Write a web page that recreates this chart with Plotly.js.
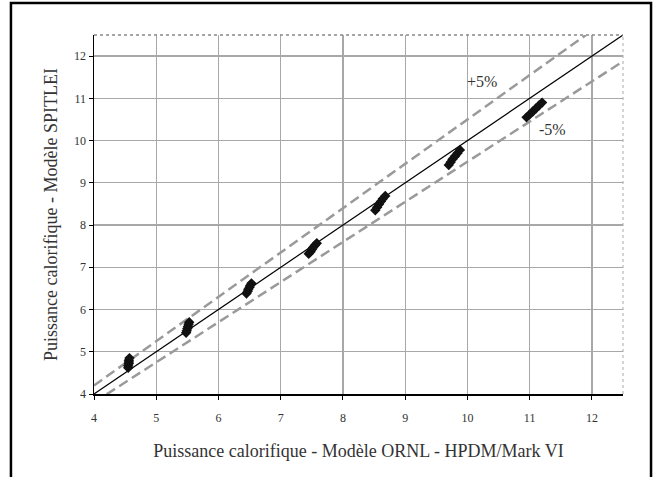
<!DOCTYPE html>
<html>
<head>
<meta charset="utf-8">
<script src="https://cdn.plot.ly/plotly-3.0.1.min.js"></script>
<style>html,body{margin:0;padding:0;background:#fff;}#chart{width:660px;height:477px;}</style>
</head>
<body>
<div id="chart"></div>
<script>
// Data
const clusterX = [
  4.55, 4.55, 4.56, 4.56, 4.56, 4.57,
  5.48, 5.49, 5.50, 5.51, 5.52, 5.53,
  6.45, 6.47, 6.48, 6.50, 6.51, 6.53,
  7.45, 7.48, 7.50, 7.52, 7.55, 7.58,
  8.52, 8.55, 8.58, 8.61, 8.64, 8.68,
  9.70, 9.73, 9.76, 9.80, 9.84, 9.88,
  10.95, 11.00, 11.05, 11.10, 11.15, 11.20
];
const clusterY = [
  4.62, 4.67, 4.72, 4.76, 4.80, 4.85,
  5.45, 5.50, 5.55, 5.60, 5.65, 5.70,
  6.38, 6.43, 6.48, 6.53, 6.57, 6.62,
  7.32, 7.37, 7.42, 7.47, 7.52, 7.57,
  8.35, 8.42, 8.49, 8.56, 8.62, 8.69,
  9.42, 9.49, 9.56, 9.63, 9.70, 9.78,
  10.55, 10.62, 10.69, 10.76, 10.83, 10.90
];
const refX = [4, 12.5];
const refY = [4, 12.5];
const plusX = [4, 11.905];
const plusY = [4.2, 12.5];
const minusX = [4, 12.5];
const minusY = [3.8, 11.875];
const tickVals = [4, 5, 6, 7, 8, 9, 10, 11, 12];
const tickText = ['4', '5', '6', '7', '8', '9', '10', '11', '12'];
const xTitle = 'Puissance calorifique - Modèle ORNL - HPDM/Mark VI';
const yTitle = 'Puissance calorifique - Modèle SPITLEI';

const serif = 'Liberation Serif, DejaVu Serif, serif';

const traces = [
  {x: plusX, y: plusY, mode: 'lines', line: {color: '#9a9a9a', width: 2.5, dash: '10px,5px'}, hoverinfo: 'skip'},
  {x: minusX, y: minusY, mode: 'lines', line: {color: '#9a9a9a', width: 2.5, dash: '10px,5px'}, hoverinfo: 'skip'},
  {x: refX, y: refY, mode: 'lines', line: {color: '#000', width: 1.2}, hoverinfo: 'skip'},
  {x: clusterX, y: clusterY, mode: 'markers', marker: {symbol: 'diamond', size: 8, color: '#111'}}
];

const axisCommon = {
  tickvals: tickVals, ticktext: tickText,
  showgrid: true, gridcolor: '#a8a8a8', gridwidth: 1.3,
  zeroline: false, showline: true, linecolor: '#000', linewidth: 1.5,
  ticks: 'outside', ticklen: 4, tickcolor: '#000', tickwidth: 1,
  tickfont: {family: serif, size: 12, color: '#333'},
  mirror: false
};

const layout = {
  width: 660, height: 477,
  margin: {l: 94, r: 37, t: 35, b: 83},
  paper_bgcolor: '#fff', plot_bgcolor: '#fff',
  showlegend: false,
  xaxis: Object.assign({}, axisCommon, {
    range: [4, 12.5],
    ticklabelstandoff: 8,
    title: {text: xTitle, font: {family: serif, size: 18, color: '#333'}, standoff: 20}
  }),
  yaxis: Object.assign({}, axisCommon, {
    range: [4, 12.5],
    title: {text: yTitle, font: {family: serif, size: 18, color: '#333'}, standoff: 12}
  }),
  shapes: [
    {type: 'line', xref: 'paper', yref: 'paper', x0: 0, x1: 1, y0: 1, y1: 1, line: {color: '#888', width: 1.5, dash: 'dot'}},
    {type: 'line', xref: 'paper', yref: 'paper', x0: 1, x1: 1, y0: 0, y1: 1, line: {color: '#aaa', width: 1, dash: 'dot'}},
    {type: 'rect', xref: 'paper', yref: 'paper', x0: -0.157, x1: 1.053, y0: -0.3, y1: 1.089, line: {color: '#000', width: 2.5}, fillcolor: 'rgba(0,0,0,0)'}
  ],
  annotations: [
    {x: 10.24, y: 11.4, xref: 'x', yref: 'y', text: '+5%', showarrow: false, font: {family: serif, size: 16, color: '#333'}},
    {x: 11.36, y: 10.27, xref: 'x', yref: 'y', text: '-5%', showarrow: false, font: {family: serif, size: 16, color: '#333'}}
  ]
};

Plotly.newPlot('chart', traces, layout, {displayModeBar: false, staticPlot: true});
</script>
</body>
</html>
